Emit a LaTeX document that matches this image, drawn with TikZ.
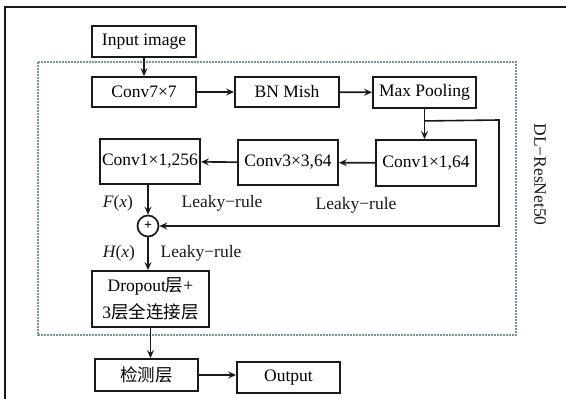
\documentclass[tikz,border=0pt]{standalone}
\usepackage{fontspec}
\setmainfont{Liberation Serif}
\newfontfamily\cjk{Noto Sans CJK SC}
\usetikzlibrary{arrows.meta}
\definecolor{dashcol}{RGB}{125,145,155}
\begin{document}
\begin{tikzpicture}[x=1pt,y=-1pt,
  font=\fontsize{17.5}{21}\selectfont,
  box/.style={draw=black!90, line width=1.9pt, inner sep=0pt},
  arr/.style={-{Stealth[length=8pt,width=7pt,inset=3pt]}, line width=1.6pt, draw=black!90},
  lbl/.style={inner sep=0pt, text=black!90}]
\useasboundingbox (0,0) rectangle (566,399);
% outer frame
\draw[line width=2.4pt, black!90] (5,399) -- (5,7) -- (566,7);
% dashed region
\draw[dashcol, line width=1.1pt, dash pattern=on 2pt off 1pt] (38,62) rectangle (516,335);
% nodes
\node[box, minimum width=104pt, minimum height=31pt] (in) at (144,41.5) {Input image};
\node[box, minimum width=104pt, minimum height=30pt] (c7) at (144,92) {Conv7×7};
\node[box, minimum width=104pt, minimum height=30pt] (bn) at (287,92) {BN Mish};
\node[box, minimum width=103pt, minimum height=31pt] (mp) at (424.5,92.5) {Max Pooling};
\node[box, minimum width=100pt, minimum height=46pt] (c164) at (426,163) {Conv1×1,64};
\node[box, minimum width=100pt, minimum height=45pt] (c33) at (288,162.5) {Conv3×3,64};
\node[box, minimum width=100pt, minimum height=45pt] (c256) at (150,161.5) {Conv1×1,256};
\node[draw=black!90, circle, minimum size=21pt, inner sep=0pt, line width=1.7pt] (plus) at (148,226) {\fontsize{14}{14}\selectfont\textbf{+}};
\node[box, minimum width=117pt, minimum height=56pt, align=center, font=\fontsize{17.5}{27}\selectfont] (drop) at (150.5,299) {Dropout{\cjk 层}+\\3{\cjk 层全连接层}};
\node[box, minimum width=103pt, minimum height=32pt] (det) at (146.5,375) {\cjk 检测层};
\node[box, minimum width=103pt, minimum height=31pt] (out) at (288.5,377.5) {Output};
% labels
\node[lbl] (fx) at (118,203) {{\itshape F}({\itshape x})};
\node[lbl] (hx) at (119,253) {{\itshape H}({\itshape x})};
\node[lbl] (lr1) at (222,203) {Leaky−rule};
\node[lbl] (lr2) at (356,205) {Leaky−rule};
\node[lbl] (lr3) at (201,253) {Leaky−rule};
\node[lbl, rotate=-90] (dl) at (540,174.5) {DL−ResNet50};
% connectors
\draw[arr] (in) -- (c7);
\draw[arr] (c7) -- (bn);
\draw[arr] (bn) -- (mp);
\draw[arr] (mp.south) -- (mp.south |- c164.north);
\draw[arr] (c164) -- (c33);
\draw[arr] (c33) -- (c256);
\draw[arr] (plus |- c256.south) -- (plus);
\path (mp.south) ++(0,12) coordinate (sk);
\coordinate (skr) at (499,120);
\draw[arr] (sk) -- (skr) -- (skr |- plus) -- (plus.east);
\draw[arr] (plus) -- (plus |- drop.north);
\draw[arr] (drop.south) -- (drop.south |- det.north);
\draw[arr] (det.east) -- (det.east -| out.west);
\end{tikzpicture}
\end{document}
